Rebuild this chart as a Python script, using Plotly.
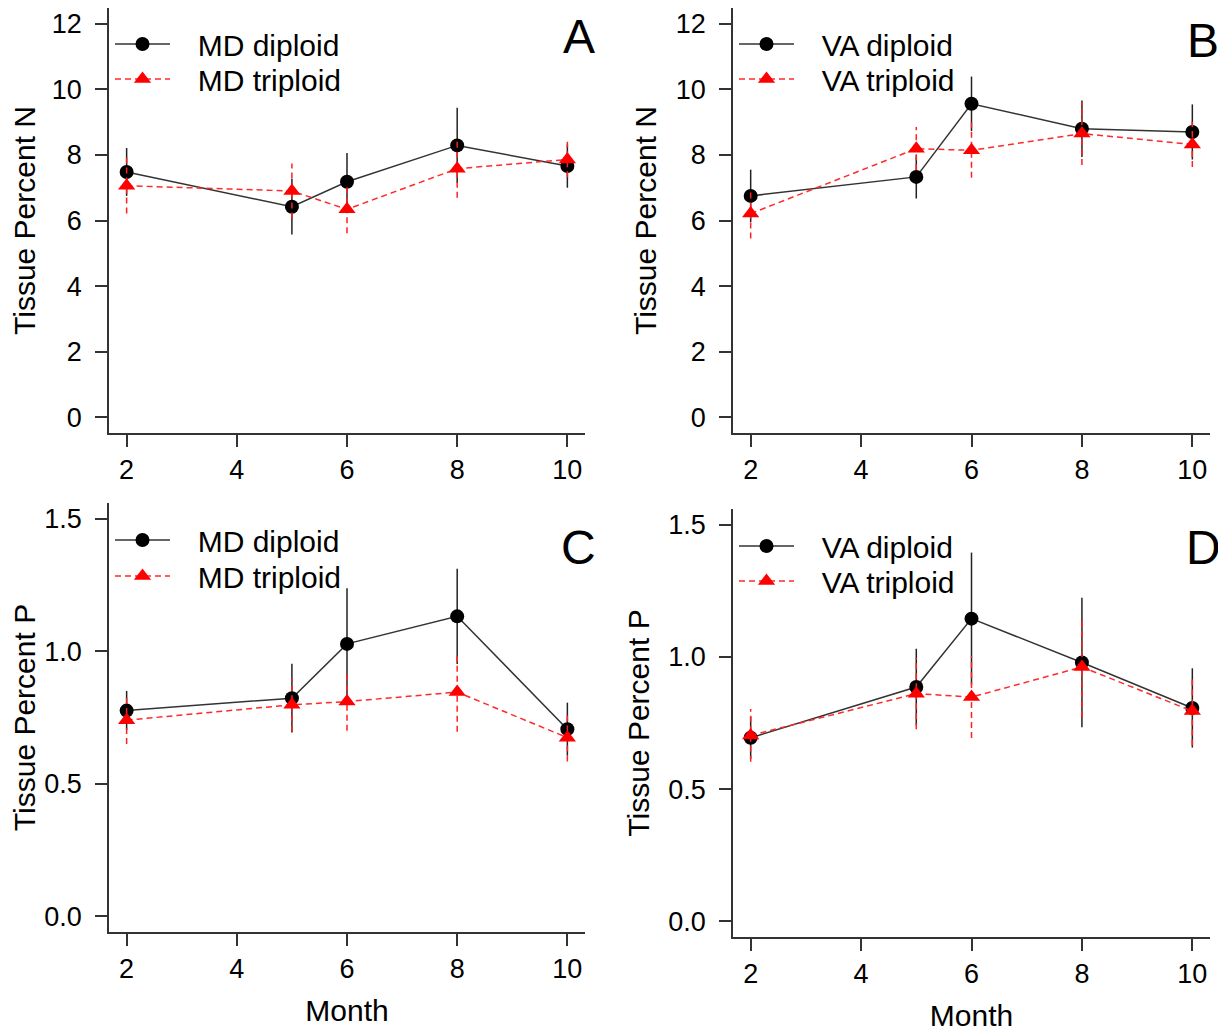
import plotly.graph_objects as go

months = [2, 5, 6, 8, 10]

# Panel A: MD tissue percent N
md_n_dip = [7.48, 6.42, 7.18, 8.29, 7.66]
md_n_dip_se = [0.73, 0.85, 0.88, 1.15, 0.66]
md_n_tri = [7.06, 6.90, 6.34, 7.58, 7.86]
md_n_tri_se = [0.85, 0.84, 0.73, 0.89, 0.54]

# Panel B: VA tissue percent N
va_n_dip = [6.75, 7.33, 9.56, 8.80, 8.70]
va_n_dip_se = [0.80, 0.66, 0.83, 0.86, 0.84]
va_n_tri = [6.21, 8.19, 8.14, 8.65, 8.32]
va_n_tri_se = [0.76, 0.66, 0.84, 0.96, 0.69]

# Panel C: MD tissue percent P
md_p_dip = [0.776, 0.823, 1.028, 1.132, 0.706]
md_p_dip_se = [0.074, 0.13, 0.21, 0.18, 0.10]
md_p_tri = [0.740, 0.798, 0.810, 0.846, 0.674]
md_p_tri_se = [0.09, 0.10, 0.11, 0.15, 0.09]

# Panel D: VA tissue percent P
va_p_dip = [0.694, 0.886, 1.145, 0.979, 0.807]
va_p_dip_se = [0.08, 0.145, 0.25, 0.245, 0.15]
va_p_tri = [0.703, 0.861, 0.848, 0.962, 0.795]
va_p_tri_se = [0.10, 0.135, 0.155, 0.19, 0.13]

x_ticks = [2, 4, 6, 8, 10]
n_ticks = [0, 2, 4, 6, 8, 10, 12]
p_ticks = [0.0, 0.5, 1.0, 1.5]

FONT = "Liberation Sans, Arial, sans-serif"
OFF = 8  # page body margin
W, H = 1226 - OFF, 1034 - OFF
AX = "#333333"
NB = "\u00a0\u00a0\u2009"

panels = [
    dict(key="", dip=md_n_dip, dse=md_n_dip_se, tri=md_n_tri, tse=md_n_tri_se,
         names=("MD diploid", "MD triploid"), letter="A", legs=("legend", "legend2"),
         rows=(44, 79)),
    dict(key="2", dip=va_n_dip, dse=va_n_dip_se, tri=va_n_tri, tse=va_n_tri_se,
         names=("VA diploid", "VA triploid"), letter="B", legs=("legend3", "legend4"),
         rows=(44, 79)),
    dict(key="3", dip=md_p_dip, dse=md_p_dip_se, tri=md_p_tri, tse=md_p_tri_se,
         names=("MD diploid", "MD triploid"), letter="C", legs=("legend5", "legend6"),
         rows=(540, 576)),
    dict(key="4", dip=va_p_dip, dse=va_p_dip_se, tri=va_p_tri, tse=va_p_tri_se,
         names=("VA diploid", "VA triploid"), letter="D", legs=("legend7", "legend8"),
         rows=(546, 581)),
]


def bars(x, m, se):
    xs, ys = [], []
    for xi, mi, si in zip(x, m, se):
        xs += [xi, xi, None]
        ys += [mi - si, mi + si, None]
    return xs, ys


fig = go.Figure()
for p in panels:
    xa = "x" + p["key"]
    ya = "y" + p["key"]
    ex, ey = bars(months, p["dip"], p["dse"])
    fig.add_trace(go.Scatter(x=ex, y=ey, mode="lines", xaxis=xa, yaxis=ya,
                             line=dict(color="#222222", width=1.5),
                             showlegend=False, hoverinfo="skip"))
    fig.add_trace(go.Scatter(x=months, y=p["dip"], mode="lines+markers", name=NB + p["names"][0],
                             xaxis=xa, yaxis=ya, legend=p["legs"][0],
                             line=dict(color="#333333", width=1.5),
                             marker=dict(symbol="circle", size=14, color="black")))
    ex, ey = bars(months, p["tri"], p["tse"])
    fig.add_trace(go.Scatter(x=ex, y=ey, mode="lines", xaxis=xa, yaxis=ya,
                             line=dict(color="#ff2020", width=1.5, dash="6px,4px"),
                             showlegend=False, hoverinfo="skip"))
    fig.add_trace(go.Scatter(x=months, y=p["tri"], mode="lines+markers", name=NB + p["names"][1],
                             xaxis=xa, yaxis=ya, legend=p["legs"][1],
                             line=dict(color="#ff2a2a", width=1.5, dash="6px,4px"),
                             marker=dict(symbol="triangle-up", size=15, color="red")))

# plot-area edges in reference pixels
xd = {"": (109, 585), "2": (733, 1210), "3": (109, 585), "4": (733, 1210)}
yd = {"": (8, 433), "2": (8, 433), "3": (503, 932), "4": (509, 937)}


def px(X):
    return min(1.0, max(0.0, (X - OFF) / W))


def py(Y):
    return min(1.0, max(0.0, 1 - (Y - OFF) / H))


layout = dict(
    width=W, height=H, margin=dict(l=0, r=0, t=0, b=0),
    paper_bgcolor="white", plot_bgcolor="white",
    font=dict(family=FONT, size=27, color="black"),
    showlegend=True,
)

common_axis = dict(showline=True, linecolor=AX, linewidth=1.5, ticks="outside",
                   ticklen=12, tickwidth=1.5, tickcolor=AX, showgrid=False,
                   zeroline=False, tickfont=dict(family=FONT, size=27, color="black"))

for p in panels:
    k = p["key"]
    x0, x1 = xd[k]
    t, b = yd[k]
    xaxis = dict(common_axis, domain=[px(x0), px(x1)], range=[1.68, 10.32],
                 tickvals=x_ticks, anchor="y" + k)
    if k in ("3", "4"):
        xaxis["title"] = dict(text="Month", font=dict(family=FONT, size=30), standoff=17)
    isN = k in ("", "2")
    yaxis = dict(common_axis, domain=[py(b), py(t)], anchor="x" + k,
                 range=[-0.48, 12.48] if isN else [-0.06, 1.56],
                 tickvals=n_ticks if isN else p_ticks,
                 tickformat="d" if isN else ".1f",
                 ticklabelstandoff=8,
                 title=dict(text="Tissue Percent N" if isN else "Tissue Percent P",
                            font=dict(family=FONT, size=30), standoff=10))
    layout["xaxis" + k] = xaxis
    layout["yaxis" + k] = yaxis
    for leg, row in zip(p["legs"], p["rows"]):
        layout[leg] = dict(
            x=px(x0 + 1), xanchor="left", y=py(row), yanchor="middle",
            bgcolor="rgba(0,0,0,0)", font=dict(family=FONT, size=30, color="black"),
            itemwidth=55, tracegroupgap=0,
        )

fig.update_layout(**layout)

letters = {"": (0.987, 0.932), "2": (0.985, 0.923), "3": (0.987, 0.897), "4": (0.987, 0.909)}
for p in panels:
    k = p["key"]
    lx, ly = letters[k]
    fig.add_annotation(text=p["letter"], x=lx, y=ly, xref=("x" + k + " domain"),
                       yref=("y" + k + " domain"), showarrow=False,
                       xanchor="center", yanchor="middle",
                       font=dict(family=FONT, size=48, color="black"))

fig.write_html("out.html")
